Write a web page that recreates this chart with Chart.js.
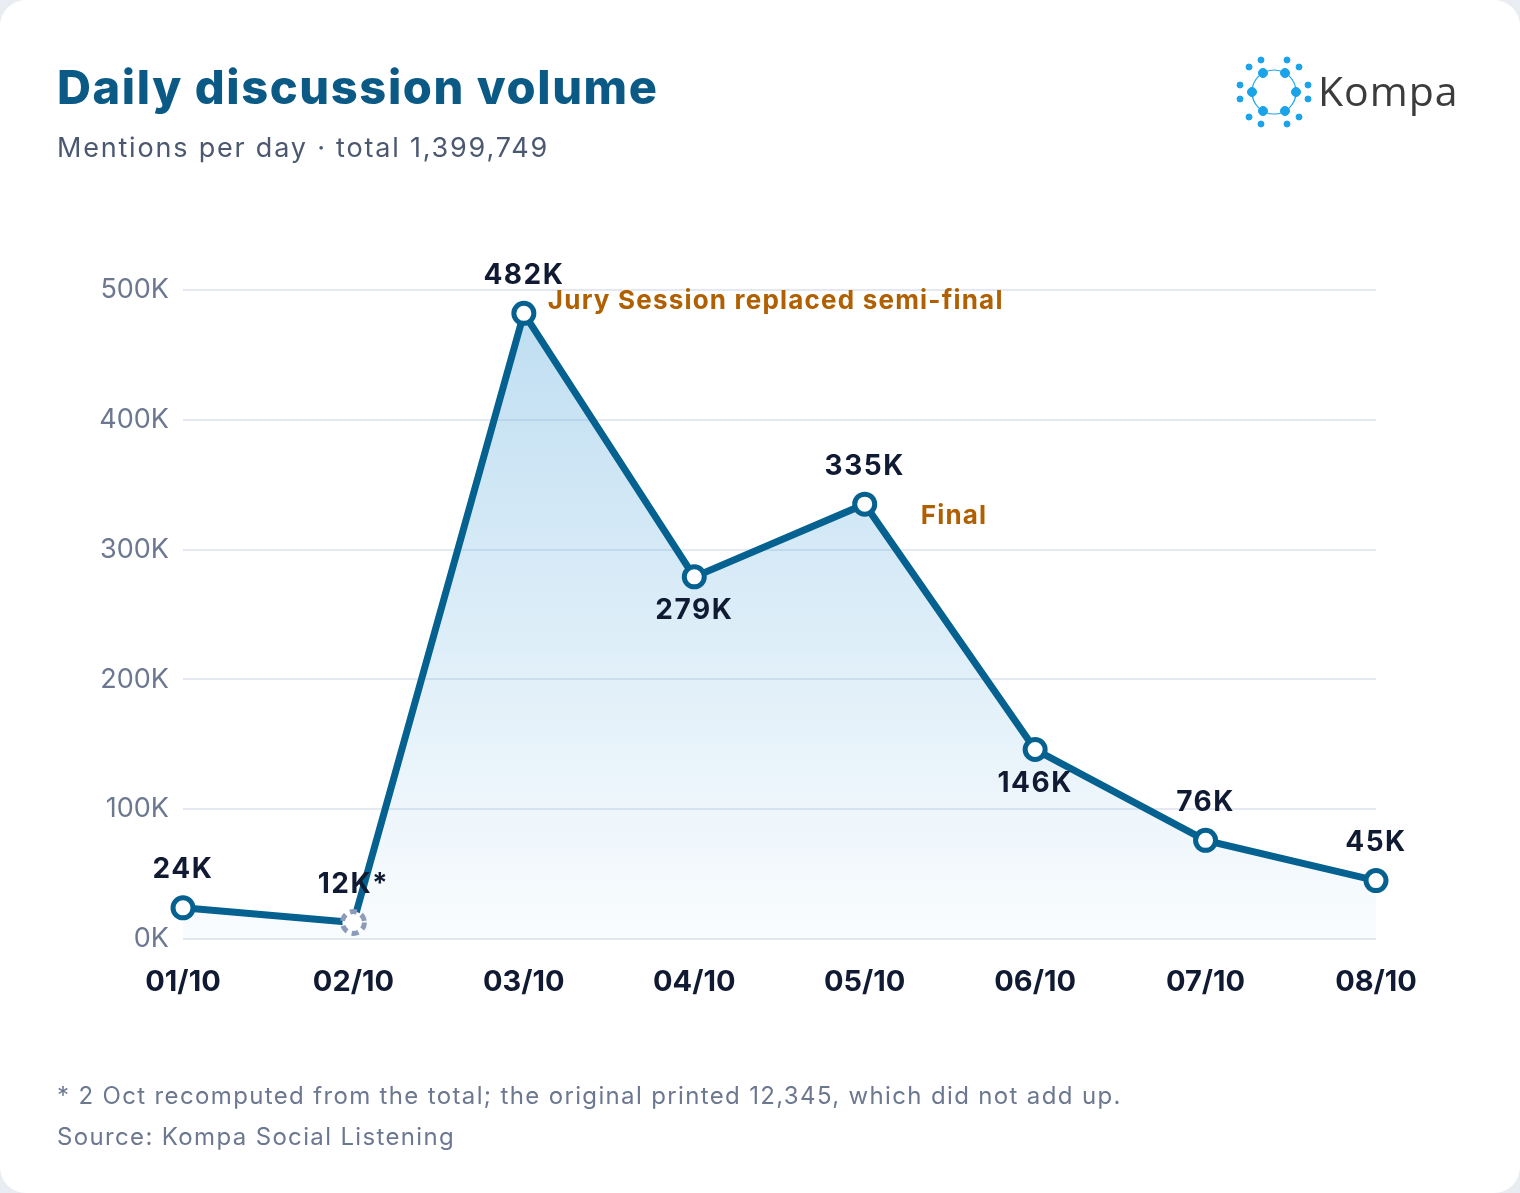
<!DOCTYPE html>
<html>
<head>
<meta charset="utf-8">
<script src="https://cdn.jsdelivr.net/npm/chart.js@4"></script>
<style>
  html, body { margin: 0; padding: 0; background: #e9edf2; }
  body { width: 1520px; height: 1193px; position: relative; font-family: Inter, "Noto Sans", sans-serif; overflow: hidden; }
  #card { position: absolute; left: 0; top: 0; width: 1520px; height: 1193px; background: #fff; border-radius: 26px; }
  #chart { position: absolute; left: 0; top: 0; }
  .t { position: absolute; white-space: nowrap; }
  #title { left: 57px; top: 58px; font-size: 47px; font-weight: 800; color: #0b5a86; letter-spacing: 1.6px; }
  #sub { left: 57px; top: 131px; font-size: 27px; color: #4b5870; letter-spacing: 1.8px; }
  #note { left: 57px; top: 1081px; font-size: 24px; color: #6b7890; letter-spacing: 1.35px; }
  #src { left: 57px; top: 1122px; font-size: 24px; color: #6b7890; letter-spacing: 1.35px; }
  #logo { left: 1234px; top: 56px; }
</style>
</head>
<body>
<div id="card"></div>
<canvas id="chart" width="1520" height="1193"></canvas>
<div class="t" id="title">Daily discussion volume</div>
<div class="t" id="sub">Mentions per day · total 1,399,749</div>
<div class="t" id="note">* 2 Oct recomputed from the total; the original printed 12,345, which did not add up.</div>
<div class="t" id="src">Source: Kompa Social Listening</div>
<svg class="t" id="logo" width="240" height="72" viewBox="0 0 240 72">
  <g fill="#1aa3e8" stroke="#1aa3e8">
    <circle cx="40" cy="36" r="22" fill="none" stroke-width="1.2"/>
    <circle cx="29" cy="17" r="4.5"/><circle cx="51" cy="17" r="4.5"/>
    <circle cx="62" cy="36" r="4.5"/><circle cx="51" cy="55" r="4.5"/>
    <circle cx="29" cy="55" r="4.5"/><circle cx="18" cy="36" r="4.5"/>
    <circle cx="27" cy="4" r="3"/><circle cx="53" cy="4" r="3"/>
    <circle cx="15" cy="11" r="3"/><circle cx="65" cy="11" r="3"/>
    <circle cx="6" cy="29" r="3"/><circle cx="74" cy="29" r="3"/>
    <circle cx="6" cy="43" r="3"/><circle cx="74" cy="43" r="3"/>
    <circle cx="15" cy="61" r="3"/><circle cx="65" cy="61" r="3"/>
    <circle cx="27" cy="68" r="3"/><circle cx="53" cy="68" r="3"/>
  </g>
  <text x="84" y="50" font-family="Open Sans, sans-serif" font-size="41" fill="#3c3c3c" letter-spacing="1">Kompa</text>
</svg>
<script>
const days = ['01/10', '02/10', '03/10', '04/10', '05/10', '06/10', '07/10', '08/10']
const mentions = [24000, 12749, 482000, 279000, 335000, 146000, 76000, 45000]
const valueLabels = ['24K', '12K*', '482K', '279K', '335K', '146K', '76K', '45K']
const labelBelow = [false, false, false, true, false, true, false, false]
const yTicks = [0, 100000, 200000, 300000, 400000, 500000]
const notes = [
    { index: 2, text: 'Jury Session replaced semi-final', dx: 24, dy: -12 },
    { index: 4, text: 'Final', dx: 56, dy: 12 }
]

const LINE = '#05618f'

const decorations = {
    id: 'decorations',
    afterDatasetsDraw (chart) {
        const ctx = chart.ctx
        const meta = chart.getDatasetMeta(0)
        ctx.save()
        // dashed marker for recomputed day
        const p = meta.data[1]
        ctx.beginPath()
        ctx.arc(p.x, p.y, 11, 0, Math.PI * 2)
        ctx.fillStyle = '#fff'
        ctx.fill()
        ctx.setLineDash([7, 5])
        ctx.lineWidth = 5
        ctx.strokeStyle = '#8d9bbb'
        ctx.stroke()
        ctx.setLineDash([])

        ctx.letterSpacing = '1.5px'
        ctx.font = 'bold 28px Inter, sans-serif'
        ctx.fillStyle = '#111a33'
        ctx.textAlign = 'center'
        meta.data.forEach((pt, i) => {
            ctx.textBaseline = labelBelow[i] ? 'top' : 'bottom'
            const y = labelBelow[i] ? pt.y + 20 : pt.y - 24
            ctx.fillText(valueLabels[i], pt.x, y)
        })

        ctx.letterSpacing = '1.2px'
        ctx.font = 'bold 26px Inter, sans-serif'
        ctx.fillStyle = '#b06000'
        ctx.textAlign = 'left'
        ctx.textBaseline = 'middle'
        notes.forEach(n => {
            const pt = meta.data[n.index]
            ctx.fillText(n.text, pt.x + n.dx, pt.y + n.dy)
        })
        ctx.restore()
    }
}

new Chart(document.getElementById('chart'), {
    type: 'line',
    data: {
        labels: days,
        datasets: [{
            data: mentions,
            borderColor: LINE,
            borderWidth: 7,
            tension: 0,
            fill: 'origin',
            backgroundColor (c) {
                const area = c.chart.chartArea
                if (!area) return 'rgba(90,168,220,0.3)'
                const g = c.chart.ctx.createLinearGradient(0, area.top, 0, area.bottom)
                g.addColorStop(0, 'rgba(110,180,225,0.45)')
                g.addColorStop(1, 'rgba(110,180,225,0.04)')
                return g
            },
            pointRadius: mentions.map((v, i) => i === 1 ? 0 : 10),
            pointBorderWidth: 5,
            pointBackgroundColor: '#fff',
            pointBorderColor: LINE
        }]
    },
    options: {
        responsive: false,
        animation: false,
        layout: { padding: { left: 0, right: 144, top: 290, bottom: 0 } },
        plugins: { legend: { display: false }, tooltip: { enabled: false } },
        scales: {
            x: {
                offset: false,
                grid: { display: false },
                border: { display: false },
                afterFit: s => { s.height = 254 },
                ticks: { padding: 18, color: '#111a33', font: { size: 29, weight: 'bold', family: 'Inter' } }
            },
            y: {
                min: 0,
                max: 500000,
                afterFit: s => { s.width = 183 },
                afterBuildTicks: s => { s.ticks = yTicks.map(v => ({ value: v })) },
                border: { display: false },
                grid: { color: '#e3e8f1', lineWidth: 2, drawTicks: false },
                ticks: {
                    padding: 14,
                    color: '#6b7890',
                    font: { size: 27, family: 'Inter' },
                    callback: v => (v / 1000) + 'K'
                }
            }
        }
    },
    plugins: [decorations]
})
</script>
</body>
</html>
